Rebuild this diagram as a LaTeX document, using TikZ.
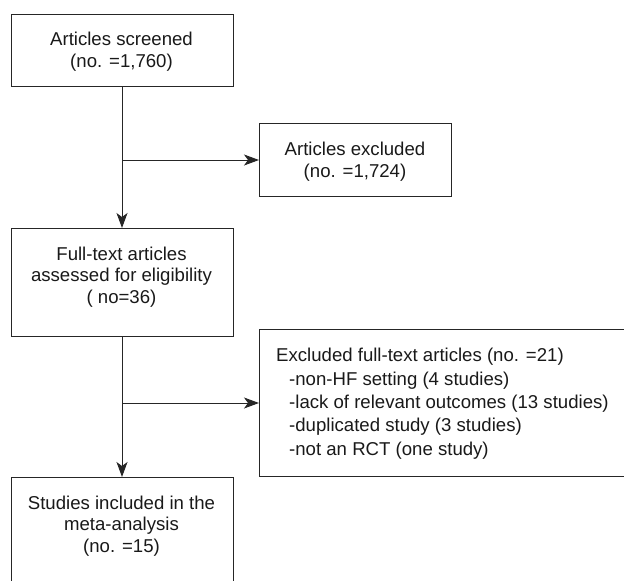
\documentclass[tikz,border=0pt]{standalone}
\usepackage{fontspec}
\setmainfont{Liberation Sans}
\usetikzlibrary{arrows.meta}
\begin{document}
\begin{tikzpicture}[x=1pt,y=-1pt,
  box/.style={draw=black!85,line width=1pt,rectangle,inner sep=0pt,anchor=north west},
  txt/.style={font=\fontsize{18.6}{21.5}\selectfont,text=black!90,align=center,inner sep=0pt,anchor=base},
  ltxt/.style={font=\fontsize{18.6}{23.3}\selectfont,text=black!90,align=left,inner sep=0pt,anchor=base west},
  arr/.style={draw=black!85,line width=1pt,-{Stealth[length=15pt,width=11pt,inset=4pt]}}]
\clip (0,0) rectangle (624,581);
\useasboundingbox (0,0) rectangle (624,581);
\node[box,minimum width=222pt,minimum height=72pt] (b1) at (10.5,14) {};
\node[box,minimum width=192pt,minimum height=73pt] (b2) at (259,123) {};
\node[box,minimum width=222pt,minimum height=108pt] (b3) at (10.5,228) {};
\node[box,minimum width=400pt,minimum height=147pt] (b4) at (259,329) {};
\node[box,minimum width=222pt,minimum height=130pt] (b5) at (10.5,477) {};
\node[txt] (t1) at (121.5,67) {Articles screened\\(no. =1,760)};
\node[txt] (t2) at (355,177) {Articles excluded\\(no. =1,724)};
\node[txt] (t3) at (121.5,303) {Full-text articles\\assessed for eligibility\\( no=36)};
\node[ltxt] (t4) at (276,455) {Excluded full-text articles (no. =21)\\
\hspace*{13pt}-non-HF setting (4 studies)\\
\hspace*{13pt}-lack of relevant outcomes (13 studies)\\
\hspace*{13pt}-duplicated study (3 studies)\\
\hspace*{13pt}-not an RCT (one study)};
\node[txt] (t5) at (121.5,552) {Studies included in the\\meta-analysis\\(no. =15)};
\draw[arr] (b1.south) -- (b3.north);
\draw[arr] (b1.south |- b2.west) -- (b2.west);
\draw[arr] (b3.south) -- (b5.north);
\draw[arr] (b3.south |- b4.west) -- (b4.west);
\end{tikzpicture}
\end{document}
